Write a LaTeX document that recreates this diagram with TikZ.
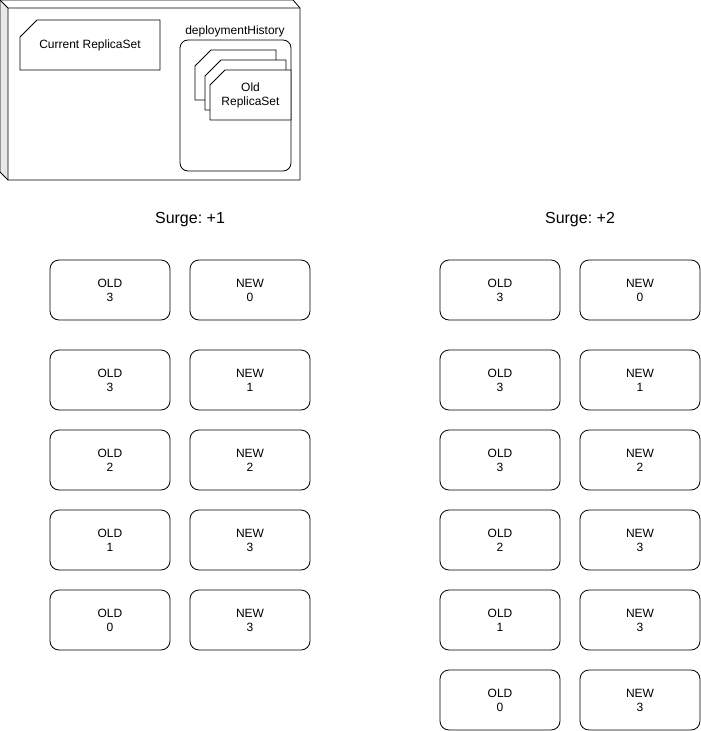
\documentclass[tikz,border=0pt]{standalone}
\usepackage{fontspec}
\setmainfont{Liberation Sans}
\usepackage{tikz}
\usetikzlibrary{positioning}
\frenchspacing
\tikzset{
  pod/.style={draw,rectangle,rounded corners=9pt,minimum width=120pt,
    minimum height=60pt,outer sep=0pt,align=center,
    font=\fontsize{12}{14}\selectfont},
  cardspace/.style={rectangle,inner sep=0pt,outer sep=0pt},
  cardline/.style={draw=black,fill=white},
  surge/.style={font=\fontsize{16}{19}\selectfont},
  caption/.style={font=\fontsize{12}{14}\selectfont,align=center}
}
\begin{document}
\begin{tikzpicture}[x=1pt,y=-1pt,line width=0.8pt]
  \useasboundingbox (0,0) rectangle (701,731);

  % deployment box
  \fill[gray!18] (0,0) -- (8,8) -- (8,180) -- (0,172) -- cycle;
  \draw (0,0) -- (293,0) -- (300,8) -- (300,180) -- (8,180) -- (0,172) -- cycle;
  \draw (0,0) -- (8,8) -- (300,8) (8,8) -- (8,180);

  \node[cardspace,minimum width=140pt,minimum height=50pt] (current) at (90,45) {};
  \filldraw[cardline] (current.north west) ++(0,17) -- ++(17,-17) -- (current.north east)
    -- (current.south east) -- (current.south west) -- cycle;
  \node[caption] (currentlabel) at (current) {Current ReplicaSet};

  \node[caption] (histlabel) at (235,31) {deploymentHistory};
  \node[draw,rounded corners=8pt,minimum width=111pt,minimum height=131pt,
    outer sep=0pt] (history) at (235.5,105.5) {};

  \node[cardspace,minimum width=81pt,minimum height=50pt] (old1) at (235.5,75) {};
  \node[cardspace,minimum width=81pt,minimum height=50pt] (old2) at (245.5,85) {};
  \node[cardspace,minimum width=81pt,minimum height=50pt] (old3) at (250.5,95) {};
  \filldraw[cardline] (old1.north west) ++(0,16) -- ++(16,-16) -- (old1.north east)
    -- (old1.south east) -- (old1.south west) -- cycle;
  \filldraw[cardline] (old2.north west) ++(0,16) -- ++(16,-16) -- (old2.north east)
    -- (old2.south east) -- (old2.south west) -- cycle;
  \filldraw[cardline] (old3.north west) ++(0,15) -- ++(15,-15) -- (old3.north east)
    -- (old3.south east) -- (old3.south west) -- cycle;
  \node[caption] (oldlabel) at (old3) {Old\\ReplicaSet};

  % surge +1
  \node[surge] (surge1) at (190,220) {Surge: +1};

  \node[pod] (aold0) at (110,290) {OLD\\3};
  \node[pod,right=20pt of aold0] (anew0) {NEW\\0};
  \node[pod,below=30pt of aold0] (aold1) {OLD\\3};
  \node[pod,right=20pt of aold1] (anew1) {NEW\\1};
  \node[pod,below=20pt of aold1] (aold2) {OLD\\2};
  \node[pod,right=20pt of aold2] (anew2) {NEW\\2};
  \node[pod,below=20pt of aold2] (aold3) {OLD\\1};
  \node[pod,right=20pt of aold3] (anew3) {NEW\\3};
  \node[pod,below=20pt of aold3] (aold4) {OLD\\0};
  \node[pod,right=20pt of aold4] (anew4) {NEW\\3};

  % surge +2
  \node[surge] (surge2) at (580,220) {Surge: +2};

  \node[pod] (bold0) at (500,290) {OLD\\3};
  \node[pod,right=20pt of bold0] (bnew0) {NEW\\0};
  \node[pod,below=30pt of bold0] (bold1) {OLD\\3};
  \node[pod,right=20pt of bold1] (bnew1) {NEW\\1};
  \node[pod,below=20pt of bold1] (bold2) {OLD\\3};
  \node[pod,right=20pt of bold2] (bnew2) {NEW\\2};
  \node[pod,below=20pt of bold2] (bold3) {OLD\\2};
  \node[pod,right=20pt of bold3] (bnew3) {NEW\\3};
  \node[pod,below=20pt of bold3] (bold4) {OLD\\1};
  \node[pod,right=20pt of bold4] (bnew4) {NEW\\3};
  \node[pod,below=20pt of bold4] (bold5) {OLD\\0};
  \node[pod,right=20pt of bold5] (bnew5) {NEW\\3};
\end{tikzpicture}
\end{document}
